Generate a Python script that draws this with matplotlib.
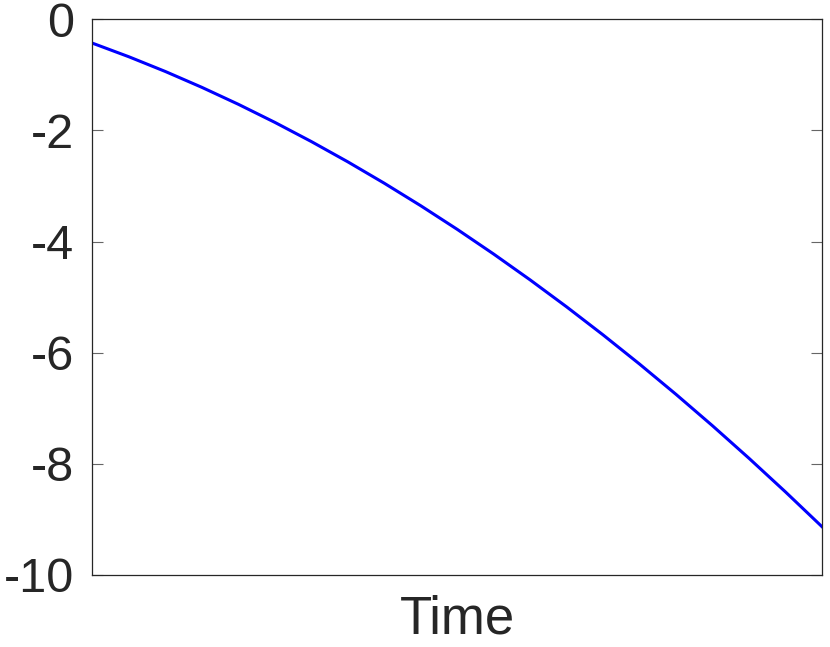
import numpy as np
import matplotlib
matplotlib.use('Agg')
import matplotlib.pyplot as plt

# values (time normalised to 0..1)
time = [0.0, 0.05, 0.1, 0.15, 0.2, 0.25, 0.3, 0.35, 0.4, 0.45, 0.5,
        0.55, 0.6, 0.65, 0.7, 0.75, 0.8, 0.85, 0.9, 0.95, 1.0]
value = [-0.43, -0.675, -0.94, -1.225, -1.53, -1.855, -2.20, -2.565, -2.95, -3.355, -3.78,
         -4.225, -4.69, -5.175, -5.68, -6.205, -6.75, -7.315, -7.90, -8.505, -9.13]
y_ticks = [-10, -8, -6, -4, -2, 0]

plt.rcParams['font.family'] = ['Liberation Sans', 'DejaVu Sans']
dark = '#262626'

fig = plt.figure(figsize=(8.3, 6.47), dpi=100)
ax = fig.add_axes([0.1114, 0.1113, 0.8789, 0.8589])

ax.plot(time, value, color=(0, 0, 1), linewidth=2.2)

ax.set_xlim(0, 1)
ax.set_ylim(-10, 0)
ax.set_xticks([])
ax.set_yticks(y_ticks)
ax.set_yticklabels([str(t) for t in y_ticks])
ax.tick_params(axis='y', direction='in', length=8, width=0.8, color='#666666',
               right=True, labelsize=35, labelcolor=dark, pad=13)
ax.set_xlabel('Time', fontsize=38, color=dark, labelpad=14)

for s in ax.spines.values():
    s.set_color(dark)
    s.set_linewidth(0.9)

fig.savefig('out.png', dpi=100)
